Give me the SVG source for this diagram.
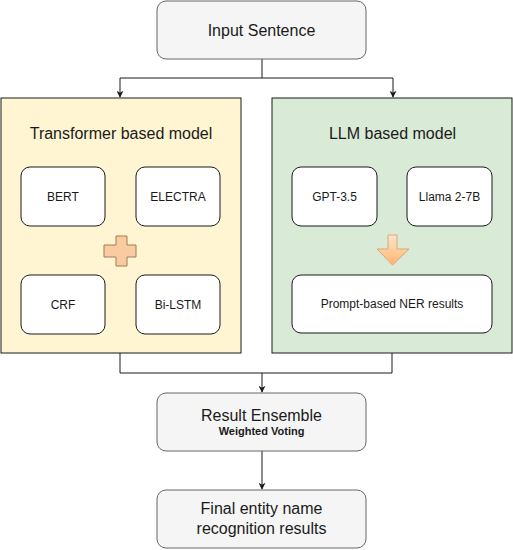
<svg xmlns="http://www.w3.org/2000/svg" width="513" height="550" viewBox="0 0 513 550">
<defs>
<style>
.gray{fill:#f5f5f5;stroke:#666666;stroke-width:1}
.inner{fill:#ffffff;stroke:#1a1a1a;stroke-width:1}
.t16{font-family:"Liberation Sans",Arial,sans-serif;font-size:16px;fill:#1a1a1a;text-anchor:middle}
.t12{font-family:"Liberation Sans",Arial,sans-serif;font-size:12px;fill:#1a1a1a;text-anchor:middle}
.t11b{font-family:"Liberation Sans",Arial,sans-serif;font-size:11px;font-weight:bold;fill:#1a1a1a;text-anchor:middle}
.conn{fill:none;stroke:#1a1a1a;stroke-width:1}
</style>
<marker id="arr" viewBox="0 0 10 10" refX="9" refY="5" markerWidth="7" markerHeight="7" markerUnits="userSpaceOnUse" orient="auto">
<path d="M0,0 L10,5 L0,10 L3,5 Z" fill="#1a1a1a"/>
</marker>
<linearGradient id="og" x1="0" y1="0" x2="0" y2="1">
<stop offset="0" stop-color="#ffe6cc"/>
<stop offset="1" stop-color="#ffb570"/>
</linearGradient>
</defs>
<rect width="513" height="550" fill="#ffffff"/>

<g id="connectors">
<path class="conn" d="M262,59 V78 M120,78 H393"/>
<path class="conn" d="M120,78 V97" marker-end="url(#arr)"/>
<path class="conn" d="M393,78 V97" marker-end="url(#arr)"/>
<path class="conn" d="M120,353 V373 H392 V353"/>
<path class="conn" d="M262,373 V392" marker-end="url(#arr)"/>
<path class="conn" d="M262,451 V489" marker-end="url(#arr)"/>
</g>

<g id="input-sentence">
<rect class="gray" x="157" y="1" width="209" height="58" rx="9"/>
<text class="t16" x="261.5" y="35.5">Input Sentence</text>
</g>

<g id="transformer-group">
<rect x="1" y="98" width="240" height="255" fill="#fff5d2" stroke="#1a1a1a" stroke-width="1"/>
<text class="t16" x="121" y="139">Transformer based model</text>
</g>
<g id="bert">
<rect class="inner" x="21" y="167" width="84" height="59" rx="9"/>
<text class="t12" x="63" y="201">BERT</text>
</g>
<g id="electra">
<rect class="inner" x="136" y="167" width="84" height="59" rx="9"/>
<text class="t12" x="178" y="201">ELECTRA</text>
</g>
<g id="plus">
<path d="M116,236 H127 V245 H136 V257 H127 V266 H116 V257 H104 V245 H116 Z" fill="#f8cba0" stroke="#a57a50" stroke-width="1"/>
</g>
<g id="crf">
<rect class="inner" x="21" y="275" width="84" height="59" rx="9"/>
<text class="t12" x="63" y="309">CRF</text>
</g>
<g id="bilstm">
<rect class="inner" x="136" y="275" width="84" height="59" rx="9"/>
<text class="t12" x="178" y="309">Bi-LSTM</text>
</g>

<g id="llm-group">
<rect x="272" y="98" width="240" height="255" fill="#d9ebd6" stroke="#1a1a1a" stroke-width="1"/>
<text class="t16" x="392.5" y="139">LLM based model</text>
</g>
<g id="gpt">
<rect class="inner" x="292" y="167" width="85" height="59" rx="9"/>
<text class="t12" x="334.5" y="201">GPT-3.5</text>
</g>
<g id="llama">
<rect class="inner" x="407" y="167" width="85" height="59" rx="9"/>
<text class="t12" x="449.5" y="201">Llama 2-7B</text>
</g>
<g id="down-arrow">
<path d="M388,235 H397 V249 H409 L392.5,265 L377,249 H388 Z" fill="url(#og)" stroke="#d9a878" stroke-width="1"/>
</g>
<g id="prompt-results">
<rect class="inner" x="292" y="275" width="200" height="58" rx="9"/>
<text class="t12" x="392" y="308">Prompt-based NER results</text>
</g>

<g id="result-ensemble">
<rect class="gray" x="157" y="393" width="209" height="58" rx="9"/>
<text class="t16" x="261.5" y="421">Result Ensemble</text>
<text class="t11b" x="261.5" y="435">Weighted Voting</text>
</g>

<g id="final-results">
<rect class="gray" x="157" y="490" width="209" height="58" rx="9"/>
<text class="t16" x="261.5" y="514">Final entity name</text>
<text class="t16" x="261.5" y="534">recognition results</text>
</g>
</svg>
